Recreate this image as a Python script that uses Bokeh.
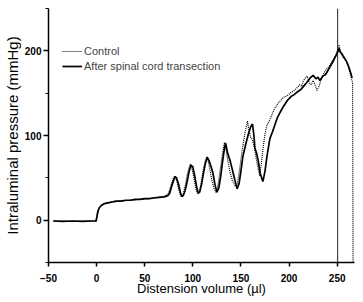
from bokeh.plotting import figure
from bokeh.models import Legend, LegendItem, SingleIntervalTicker, Range1d
from bokeh.embed import file_html
from bokeh.resources import INLINE

# After spinal cord transection (solid)
trans_x = [-45, -35, -25, -15, -5, -0.5, 0.5, 1.5, 3, 5, 8, 12, 16, 20, 25, 30, 35, 40, 45, 50,
           55, 60, 65, 70, 74, 76, 78, 80, 81.5, 83, 85, 87, 88.5, 90, 92, 94, 96, 98, 100, 102,
           104, 105.5, 107, 109, 111, 113, 115, 117, 119, 121, 123, 125, 127, 129, 131, 133, 134,
           136, 138.5, 141, 143.5, 146, 148, 150, 152, 155, 158, 160, 162, 163.5, 164.5, 166, 168,
           170, 172.8, 175, 177, 180, 183, 186, 188, 191, 194, 198, 202, 205, 208, 212, 215, 218,
           222, 225, 228, 230, 232, 235, 238, 240, 243, 246, 249, 251, 252, 253, 255, 257, 259.5,
           262, 264, 265.5]
trans_y = [-1, -1.5, -1, -1.5, -1, -1, 5, 11, 15, 17.5, 19.5, 20.5, 21.5, 22.5, 22.5, 23.5, 23.5,
           24.5, 24.5, 25.5, 25.5, 26.5, 27, 27.5, 29, 32, 40, 47, 51.5, 50, 43, 33, 28, 29, 35, 45,
           57, 65, 63, 52, 39, 32, 33, 42, 55, 67, 74, 70, 63, 55, 42, 33, 38, 52, 70, 86, 91, 80,
           71, 60, 48, 37, 43, 58, 75, 90, 103, 110, 113.5, 100, 85, 80, 70, 55, 45.6, 58, 75, 96,
           105, 115, 121.5, 128, 134, 141, 146, 148, 151, 154, 158, 162, 168, 171, 167, 169, 165,
           170, 172, 176, 182, 188, 195, 200, 203, 199, 196, 192, 188, 181, 174, 168]

# Control (dotted)
ctrl_x = [-45, -35, -25, -15, -5, -0.5, 0.5, 2, 4, 7, 12, 20, 30, 40, 50, 60, 70, 74, 76, 78, 80,
          81, 83, 85, 87, 88, 90, 92, 94, 96, 97.5, 99, 101, 103, 105, 107, 109, 111, 113, 114.5,
          116, 118, 120, 122, 124, 126, 128, 130, 132, 133, 135, 137, 139, 141, 144, 146, 148, 150,
          152, 154, 156.8, 158, 160, 162, 164, 166, 168, 169.4, 171, 173, 175, 177, 179.6, 182, 185,
          188, 191, 194, 198, 201, 205, 208, 211, 213, 215, 217, 219, 221, 223, 225, 227, 229, 231,
          233, 235.7, 238, 241, 244, 246, 249, 251, 252, 253, 255, 258, 261, 264, 266, 266.5]
ctrl_y = [-1, -1, -1.5, -1, -1, -1, 7, 13, 16.5, 19, 21, 22, 23, 24, 25, 26, 28, 30, 36, 44, 50,
          52, 48, 38, 30, 28, 31, 40, 52, 62, 66, 62, 50, 38, 31, 34, 46, 60, 70, 75, 70, 58, 46,
          37, 33, 40, 56, 72, 87, 92, 80, 66, 55, 47, 40, 42, 55, 72, 88, 102, 117, 108, 98, 95, 85,
          72, 60, 52.7, 65, 85, 102, 112, 117.7, 124, 132, 137, 141, 145, 147, 150, 153, 156, 160,
          158, 165, 168, 170, 162, 160, 165, 160, 153, 158, 165, 172.7, 177, 181, 186, 190, 196,
          204, 207, 200, 197, 191, 184, 172, 162, -50]

# Vertical marker line
marker_x = [250.5, 250.5]
marker_y = [-50, 250]

x_ticks = [-50, 0, 50, 100, 150, 200, 250]

p = figure(width=355, height=300, output_backend="svg", toolbar_location=None,
           x_range=Range1d(-50, 268), y_range=Range1d(-50, 250),
           min_border_left=42, min_border_right=1, min_border_top=8, min_border_bottom=38)
p.outline_line_color = None
p.xgrid.grid_line_color = None
p.ygrid.grid_line_color = None

p.line(marker_x, marker_y, line_color="#222222", line_width=1)
r_ctrl = p.line(ctrl_x, ctrl_y, line_color="black", line_width=1.2, line_dash="1 1")
r_trans = p.line(trans_x, trans_y, line_color="black", line_width=1.7)

legend = Legend(items=[LegendItem(label="Control", renderers=[r_ctrl]),
                       LegendItem(label="After spinal cord transection", renderers=[r_trans])],
                location=(14, 190), padding=0, margin=0, spacing=3,
                glyph_width=20, glyph_height=12, label_height=12, label_standoff=2,
                label_text_font="Liberation Sans", label_text_font_size="11px",
                border_line_color=None, background_fill_alpha=0)
p.add_layout(legend)

p.xaxis.ticker = x_ticks
p.yaxis.ticker = SingleIntervalTicker(interval=100, num_minor_ticks=2)
for ax in (p.xaxis, p.yaxis):
    ax.axis_line_width = 1.5
    ax.major_tick_line_width = 1.5
    ax.minor_tick_line_width = 1.2
    ax.major_tick_out = 5
    ax.major_tick_in = 0
    ax.minor_tick_out = 3
    ax.minor_tick_in = 0
    ax.major_label_text_font = "Liberation Sans"
    ax.major_label_text_font_style = "bold"
    ax.major_label_text_font_size = "10px"
    ax.major_label_text_color = "black"
    ax.axis_label_text_font = "Liberation Sans"
    ax.axis_label_text_font_style = "normal"
    ax.axis_label_text_color = "black"
p.xaxis.minor_tick_line_color = None
p.xaxis.major_tick_out = 4
p.xaxis.major_label_standoff = 7
p.xaxis.axis_label = "Distension volume (\u00b5l)"
p.xaxis.axis_label_text_font_size = "13px"
p.xaxis.axis_label_standoff = -4
p.yaxis.axis_label = "Intraluminal pressure (mmHg)"
p.yaxis.axis_label_text_font_size = "15px"
p.yaxis.major_label_standoff = 2
p.yaxis.axis_label_standoff = 1

open("out.html", "w").write(file_html(p, INLINE))
